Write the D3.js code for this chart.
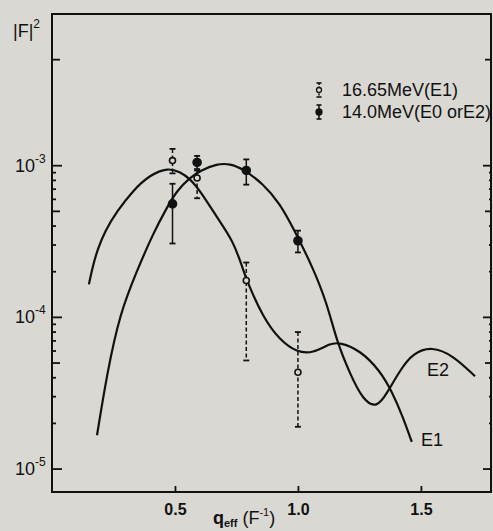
<!DOCTYPE html>
<html lang="en">
<head>
    <title>Form factor |F|^2 vs q_eff</title>
    <script src="https://d3js.org/d3.v7.min.js"></script>
    <style>
        body { margin: 0; background: #d9d8d3; }
        text { font-family: "Liberation Sans", Arial, sans-serif; fill: #111; }
    </style>
</head>
<body>
<svg id="chart"></svg>
<script>

    // open circles: 16.65 MeV (E1)
    const e1Q   = [0.49, 0.59, 0.79, 1.0];
    const e1Val = [1.08e-3, 8.3e-4, 1.75e-4, 4.35e-5];
    const e1Hi  = [1.29e-3, 9.3e-4, 2.3e-4, 8.0e-5];
    const e1Lo  = [8.9e-4, 6.1e-4, 5.2e-5, 1.9e-5];

    // filled dots: 14.0 MeV (E0 or E2)
    const e2Q   = [0.49, 0.59, 0.79, 1.0];
    const e2Val = [5.6e-4, 1.05e-3, 9.3e-4, 3.2e-4];
    const e2Hi  = [7.6e-4, 1.16e-3, 1.1e-3, 3.73e-4];
    const e2Lo  = [3.07e-4, 9.5e-4, 7.5e-4, 2.68e-4];

    // calculated curves
    const curveE1Q = [0.150, 0.165, 0.185, 0.215, 0.264, 0.329, 0.398, 0.472, 0.520, 0.561, 0.602, 0.671,
        0.736, 0.776, 0.793, 0.858, 0.927, 0.996, 1.061, 1.130, 1.171, 1.252, 1.333, 1.386, 1.427, 1.463];
    const curveE1V = [1.65e-4, 2.15e-4, 2.8e-4, 3.7e-4, 5.0e-4, 6.85e-4, 8.7e-4, 9.7e-4, 9.1e-4, 8.2e-4, 6.85e-4, 4.55e-4,
        3.21e-4, 2.10e-4, 1.73e-4, 1.0e-4, 7.06e-5, 5.89e-5, 5.80e-5, 6.74e-5, 6.85e-5, 6.07e-5, 4.48e-5, 3.16e-5, 2.20e-5, 1.51e-5];

    const curveE2Q = [0.183, 0.224, 0.276, 0.346, 0.411, 0.467, 0.508, 0.561, 0.602, 0.671, 0.724, 0.776,
        0.858, 0.927, 0.980, 1.061, 1.118, 1.159, 1.211, 1.264, 1.321, 1.362, 1.415, 1.467, 1.545, 1.630, 1.720];
    const curveE2V = [1.67e-5, 4.28e-5, 1.06e-4, 2.04e-4, 3.57e-4, 5.29e-4, 6.85e-4, 8.34e-4, 9.27e-4, 1.03e-3, 1.03e-3, 9.55e-4,
        7.61e-4, 5.62e-4, 3.91e-4, 2.13e-4, 1.24e-4, 6.85e-5, 4.28e-5, 2.85e-5, 2.52e-5, 3.16e-5, 4.48e-5, 5.80e-5, 6.44e-5, 5.62e-5, 4.09e-5];

    const xTicks = [0.5, 1.0, 1.5];
    const xTickLabels = ["0.5", "1.0", "1.5"];
    const yMajor = [1e-3, 1e-4, 1e-5];
    const yMajorExp = ["-3", "-4", "-5"];
    const yMinor = [5e-3, 9e-4, 8e-4, 7e-4, 6e-4, 5e-4, 4e-4, 3e-4, 2e-4,
        9e-5, 8e-5, 7e-5, 6e-5, 5e-5, 4e-5, 3e-5, 2e-5];
    const legendLabels = ["16.65MeV(E1)", "14.0MeV(E0 orE2)"];

    let width = 493, height = 531;
    let margin = {top: 14, right: 2, bottom: 39, left: 52};

    let svg = d3.select("#chart")
            .attr("width", width)
            .attr("height", height);

    let x = d3.scaleLinear()
            .domain([0, 1.785])
            .range([margin.left, width - margin.right]);

    let y = d3.scaleLog()
            .domain([7.06e-6, 1e-2])
            .range([height - margin.bottom, margin.top]);

    const ink = "#111";

    // frame
    svg.append("rect")
            .attr("x", x.range()[0])
            .attr("y", y.range()[1])
            .attr("width", x.range()[1] - x.range()[0])
            .attr("height", y.range()[0] - y.range()[1])
            .attr("fill", "none")
            .attr("stroke", ink)
            .attr("stroke-width", 2);

    // y ticks, both sides, pointing inward
    let isFive = v => Math.abs(v / Math.pow(10, Math.floor(Math.log10(v) + 1e-9)) - 5) < 0.01;
    let tickLen = v => yMajor.includes(v) ? 10 : (isFive(v) ? 8 : 4);
    let allY = yMajor.concat(yMinor);

    svg.append("g").attr("class", "ytick-left")
            .selectAll("line").data(allY).enter().append("line")
            .attr("x1", x.range()[0]).attr("x2", d => x.range()[0] + tickLen(d))
            .attr("y1", d => y(d)).attr("y2", d => y(d))
            .attr("stroke", ink).attr("stroke-width", 1.8);

    svg.append("g").attr("class", "ytick-right")
            .selectAll("line").data(allY).enter().append("line")
            .attr("x1", x.range()[1]).attr("x2", d => x.range()[1] - tickLen(d) + 2)
            .attr("y1", d => y(d)).attr("y2", d => y(d))
            .attr("stroke", ink).attr("stroke-width", 1.8);

    let yLab = svg.append("g").selectAll("text").data(yMajor).enter().append("text")
            .attr("x", 15)
            .attr("y", d => y(d) + 6)
            .attr("font-size", 18);
    yLab.append("tspan").text("10");
    yLab.append("tspan").attr("dy", -9).attr("font-size", 12).text((d, i) => yMajorExp[i]);

    // x axis ticks
    let xAxis = d3.axisBottom(x)
            .tickValues(xTicks)
            .tickSizeInner(-6)
            .tickSizeOuter(0)
            .tickPadding(12)
            .tickFormat((d, i) => xTickLabels[i]);

    let gx = svg.append("g")
            .attr("transform", `translate(0,${y.range()[0]})`)
            .call(xAxis);
    gx.select(".domain").remove();
    gx.selectAll("line").attr("stroke", ink).attr("stroke-width", 1.8);
    gx.selectAll("text")
            .attr("font-size", 16)
            .attr("font-weight", "bold")
            .attr("fill", ink);

    // axis titles
    let yTitle = svg.append("text").attr("x", 13).attr("y", 37).attr("font-size", 18);
    yTitle.append("tspan").text("|F|");
    yTitle.append("tspan").attr("dy", -9).attr("font-size", 12).text("2");

    let xTitle = svg.append("text").attr("x", 213).attr("y", 524).attr("font-size", 18);
    xTitle.append("tspan").attr("font-weight", "bold").text("q");
    xTitle.append("tspan").attr("dy", 3).attr("font-size", 11).attr("font-weight", "bold").text("eff");
    xTitle.append("tspan").attr("dy", -3).text(" (F");
    xTitle.append("tspan").attr("dy", -8).attr("font-size", 11).text("-1");
    xTitle.append("tspan").attr("dy", 8).text(")");

    // curves
    let line = d3.line()
            .x(d => x(d[0]))
            .y(d => y(d[1]))
            .curve(d3.curveBasis);

    svg.append("path")
            .datum(curveE1Q.map((q, i) => [q, curveE1V[i]]))
            .attr("d", line)
            .attr("fill", "none")
            .attr("stroke", ink)
            .attr("stroke-width", 2.2);

    svg.append("path")
            .datum(curveE2Q.map((q, i) => [q, curveE2V[i]]))
            .attr("d", line)
            .attr("fill", "none")
            .attr("stroke", ink)
            .attr("stroke-width", 2.2);

    svg.append("text").attr("x", 427).attr("y", 376).attr("font-size", 18).text("E2");
    svg.append("text").attr("x", 421).attr("y", 446).attr("font-size", 18).text("E1");

    // error bars + points
    function drawSeries(qs, vals, his, los, open) {
        let g = svg.append("g");
        let pts = qs.map((q, i) => ({q: q, v: vals[i], hi: his[i], lo: los[i]}));
        g.selectAll("line.bar").data(pts).enter().append("line")
                .attr("x1", d => x(d.q)).attr("x2", d => x(d.q))
                .attr("y1", d => y(d.hi)).attr("y2", d => y(d.lo))
                .attr("stroke", ink).attr("stroke-width", 1.5)
                .attr("stroke-dasharray", open ? "4,2.5" : null);
        ["hi", "lo"].forEach(k => {
            g.selectAll("line.cap" + k).data(pts).enter().append("line")
                    .attr("x1", d => x(d.q) - 3).attr("x2", d => x(d.q) + 3)
                    .attr("y1", d => y(d[k])).attr("y2", d => y(d[k]))
                    .attr("stroke", ink).attr("stroke-width", 1.8);
        });
        g.selectAll("circle").data(pts).enter().append("circle")
                .attr("cx", d => x(d.q)).attr("cy", d => y(d.v))
                .attr("r", open ? 3 : 4)
                .attr("fill", open ? "#d9d8d3" : ink)
                .attr("stroke", ink).attr("stroke-width", 1.6);
    }
    drawSeries(e1Q, e1Val, e1Hi, e1Lo, true);
    drawSeries(e2Q, e2Val, e2Hi, e2Lo, false);

    // legend
    let legend = svg.append("g").attr("transform", "translate(319,0)");
    legendLabels.forEach((lab, i) => {
        let cy = 90 + i * 22;
        let open = i === 0;
        legend.append("line").attr("x1", 0).attr("x2", 0).attr("y1", cy - 7).attr("y2", cy + 7)
                .attr("stroke", ink).attr("stroke-width", 1.5)
                .attr("stroke-dasharray", open ? "2,1.5" : null);
        [cy - 7, cy + 7].forEach(yy => legend.append("line")
                .attr("x1", -2.5).attr("x2", 2.5).attr("y1", yy).attr("y2", yy)
                .attr("stroke", ink).attr("stroke-width", 1.6));
        legend.append("circle").attr("cx", 0).attr("cy", cy).attr("r", open ? 2.5 : 3)
                .attr("fill", open ? "#d9d8d3" : ink).attr("stroke", ink).attr("stroke-width", 1.3);
        legend.append("text").attr("x", 23).attr("y", cy + 6).attr("font-size", 18).text(lab);
    });

</script>
</body>
</html>
